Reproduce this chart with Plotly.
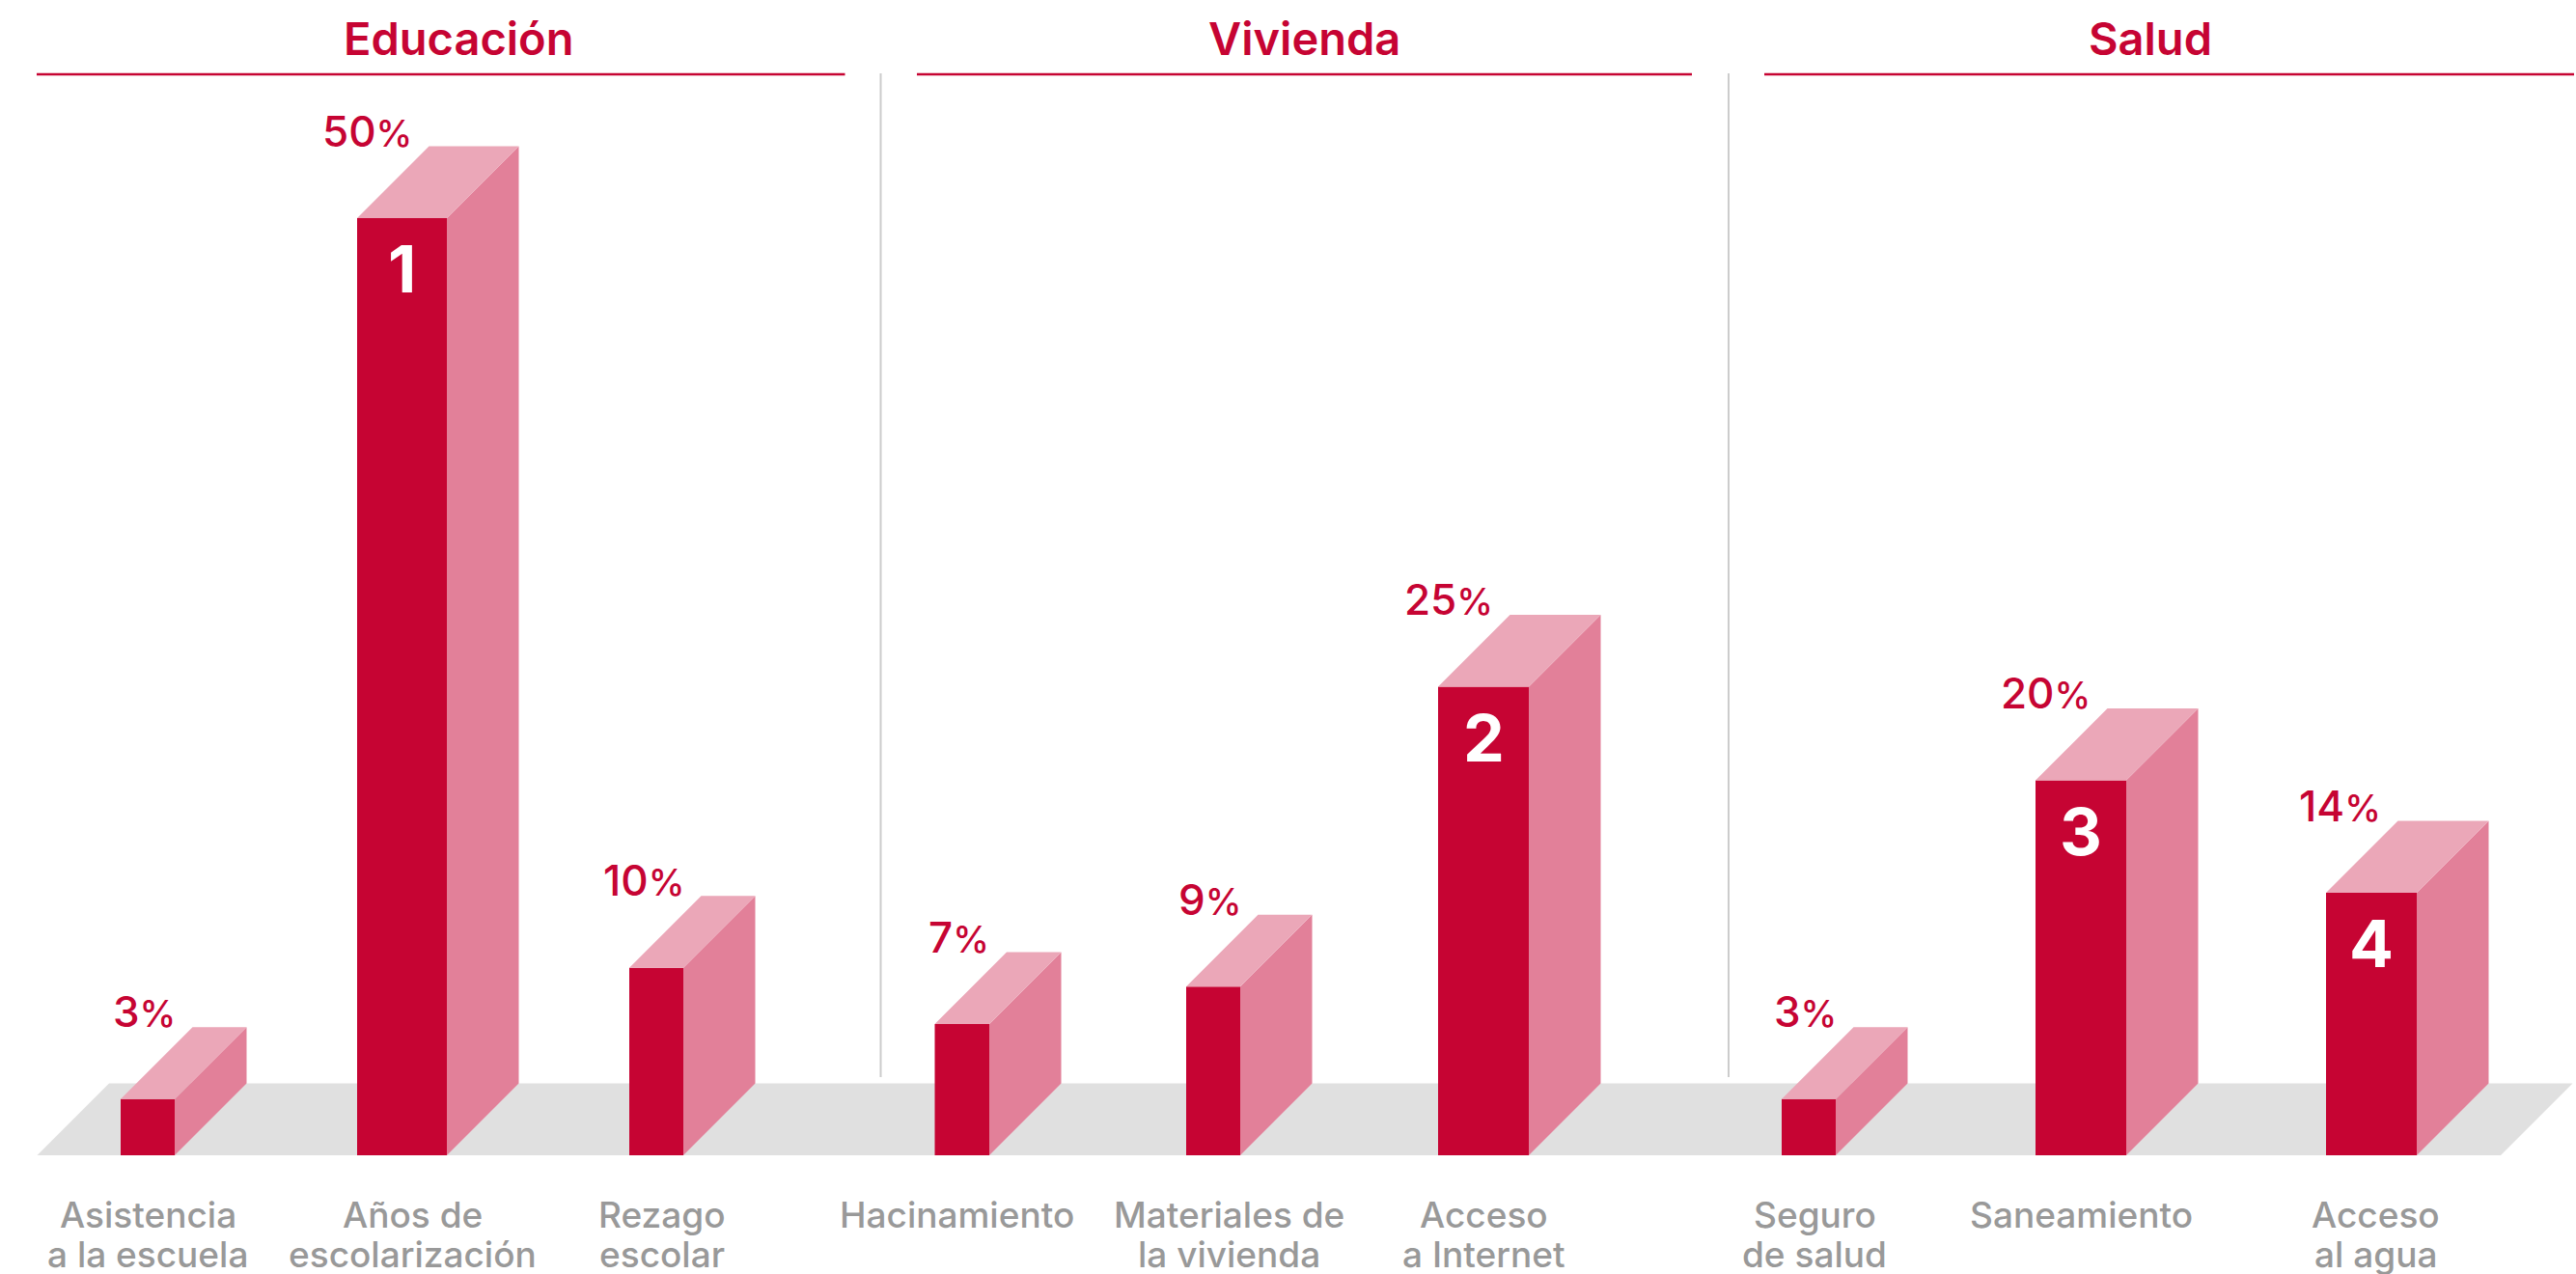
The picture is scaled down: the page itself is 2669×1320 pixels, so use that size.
import plotly.graph_objects as go

# ---- data ----
groups = ["Educación", "Vivienda", "Salud"]
categories = ["Asistencia<br>a la escuela", "Años de<br>escolarización", "Rezago<br>escolar",
              "Hacinamiento", "Materiales de<br>la vivienda", "Acceso<br>a Internet",
              "Seguro<br>de salud", "Saneamiento", "Acceso<br>al agua"]
values = [3, 50, 10, 7, 9, 25, 3, 20, 14]
ranks = {1: "1", 5: "2", 7: "3", 8: "4"}

# ---- layout (pixel-like x scale, value y scale) ----
W, H = 2669, 1320
BASE_PX = 1197
PX_PER_PCT = 19.42
def vy(px):
    return (BASE_PX - px) / PX_PER_PCT
bar_left = [125, 370, 652, 968.5, 1229, 1490, 1846, 2109, 2410]
bar_right = [181, 463, 708, 1025, 1285, 1584, 1902, 2203, 2504]
label_x = [153, 427, 686, 991, 1273, 1537, 1880, 2156, 2461]
group_x = [475, 1351, 2228]
group_lines = [(38, 875.5), (950, 1753), (1828, 2667)]
sep_x = [912.5, 1791]
DX = 74.5
DY = 74.5 / PX_PER_PCT
RED, TOP, SIDE, FLOOR, GREY = "#C60433", "#EBA7B8", "#E28099", "#E0E0E0", "#999999"
FONT = "Inter"

fig = go.Figure()
fig.add_bar(x=[(l + r) / 2 for l, r in zip(bar_left, bar_right)], y=values,
            width=[r - l for l, r in zip(bar_left, bar_right)],
            marker=dict(color=RED, line=dict(width=0)), name="Privación", showlegend=False)

tx, ty, sx, sy = [], [], [], []
for l, r, v in zip(bar_left, bar_right, values):
    tx += [l, r, r + DX, l + DX, l, None]
    ty += [v, v, v + DY, v + DY, v, None]
    sx += [r, r + DX, r + DX, r, r, None]
    sy += [0, DY, v + DY, v, 0, None]
for xs, ys, c in ((sx, sy, SIDE), (tx, ty, TOP)):
    fig.add_scatter(x=xs, y=ys, mode="lines", fill="toself", fillcolor=c,
                    line=dict(width=0, color=c), hoverinfo="skip", showlegend=False)

shapes = [dict(type="path", layer="below", xref="x", yref="y", fillcolor=FLOOR, line=dict(width=0),
               path=f"M 38.5 0 L 2591 0 L 2665.5 {DY} L 113 {DY} Z")]
for x in sep_x:
    shapes.append(dict(type="line", layer="below", xref="x", yref="y", x0=x, x1=x, y0=vy(76), y1=vy(1116),
                       line=dict(color="#CCCCCC", width=2)))
for x0, x1 in group_lines:
    shapes.append(dict(type="line", xref="x", yref="y", x0=x0, x1=x1, y0=vy(77), y1=vy(77),
                       line=dict(color=RED, width=2.5)))

ann = []
for g, x in zip(groups, group_x):
    ann.append(dict(x=x, y=vy(39.5), text=g, showarrow=False, xanchor="center", yanchor="middle",
                    font=dict(family=FONT, size=47, color=RED, weight=600)))
for i, (l, v) in enumerate(zip(bar_left, values)):
    ann.append(dict(x=l + DX - 16, y=v + DY, yshift=-13, text=f"{v}<span style='font-size:38px'>%</span>",
                    showarrow=False, xanchor="right", yanchor="bottom",
                    font=dict(family=FONT, size=44, color=RED, weight=500)))
for i, t in ranks.items():
    ann.append(dict(x=(bar_left[i] + bar_right[i]) / 2, y=values[i], yshift=-52, text=t, showarrow=False,
                    xanchor="center", yanchor="middle",
                    font=dict(family=FONT, size=68, color="#FFFFFF", weight=700)))
for x, t in zip(label_x, categories):
    for j, line in enumerate(t.split("<br>")):
        ann.append(dict(x=x, y=vy(1258 + 41.5 * j), text=line, showarrow=False,
                        xanchor="center", yanchor="middle",
                        font=dict(family=FONT, size=37, color=GREY, weight=500)))

fig.update_layout(width=W, height=H, margin=dict(l=0, r=0, t=0, b=0), paper_bgcolor="white",
                  plot_bgcolor="white", showlegend=False, shapes=shapes, annotations=ann,
                  xaxis=dict(range=[0, W], visible=False, fixedrange=True),
                  yaxis=dict(range=[vy(H), vy(0)], visible=False, fixedrange=True))
fig.write_html("out.html", config=dict(displayModeBar=False),
               post_script="document.body.style.margin='0';document.body.style.overflow='hidden';")
